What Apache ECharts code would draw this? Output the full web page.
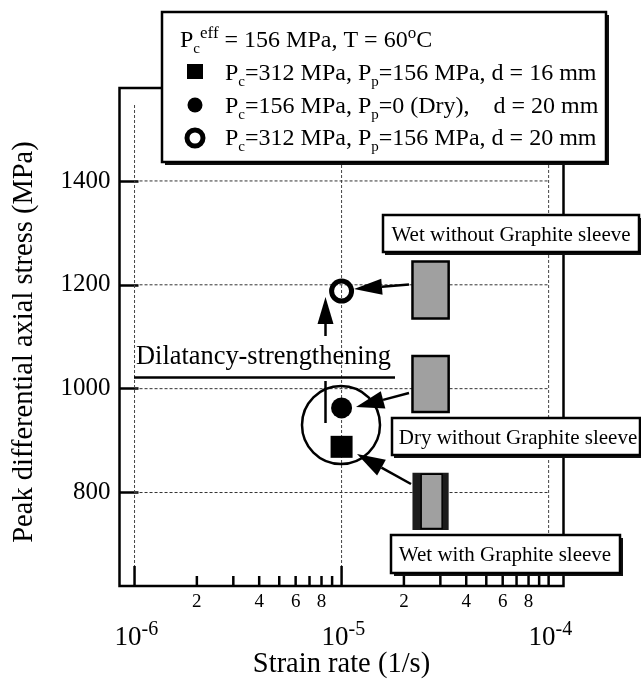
<!DOCTYPE html>
<html><head><meta charset="utf-8">
<style>html,body{margin:0;padding:0;background:#fff}#c{width:641px;height:684px}</style>
<script src="https://cdn.jsdelivr.net/npm/echarts@6/dist/echarts.min.js"></script>
</head><body><div id="c"></div>
<script>
const FONT = '"Liberation Serif","Times New Roman",serif';
const yTicks = [800, 1000, 1200, 1400];
const xDecades = [1e-6, 1e-5, 1e-4];
const xDecadeExp = ['-6', '-5', '-4'];
const xMinorMult = [2, 3, 4, 5, 6, 7, 8, 9];
const xMinorLabelled = [2, 4, 6, 8];
const squarePoint = [[1e-5, 888]];
const filledPoint = [[1e-5, 963]];
const openPoint = [[1e-5, 1188]];
const grayBars = [[2.2e-5, 3.29e-5, 1135, 1245], [2.2e-5, 3.29e-5, 955, 1063]];
const sleeveBar = [[2.2e-5, 3.29e-5, 728, 838]];
const legendTitle = '{m|P}{sub|c}{sup|eff}{m| = 156 MPa, T = 60}{sup|o}{m|C}';
const legendRows = [
  '{m|P}{sub|c}{m|=312 MPa, P}{sub|p}{m|=156 MPa, d = 16 mm}',
  '{m|P}{sub|c}{m|=156 MPa, P}{sub|p}{m|=0 (Dry),    d = 20 mm}',
  '{m|P}{sub|c}{m|=312 MPa, P}{sub|p}{m|=156 MPa, d = 20 mm}'
];

const richL = {
  m: {fontFamily: FONT, fontSize: 24, lineHeight: 32, verticalAlign: 'middle', fill: '#000'},
  sub: {fontFamily: FONT, fontSize: 15, lineHeight: 11, verticalAlign: 'bottom', fill: '#000'},
  sup: {fontFamily: FONT, fontSize: 17, lineHeight: 8, verticalAlign: 'top', fill: '#000'}
};
function box(x, y, w, h, sx, sy) {
  return [
    {type: 'rect', shape: {x: x + sx, y: y + sy, width: w, height: h}, style: {fill: '#111'}, z: 20},
    {type: 'rect', shape: {x, y, width: w, height: h}, style: {fill: '#fff', stroke: '#000', lineWidth: 2.5}, z: 21}
  ];
}
function label(text, x, y, size) {
  return {type: 'text', x, y, z: 22, style: {text, font: size + 'px ' + FONT, fill: '#000', textAlign: 'center', textVerticalAlign: 'middle'}};
}
function arrow(x1, y1, x2, y2, len, hw) {
  const d = Math.hypot(x2 - x1, y2 - y1), ux = (x2 - x1) / d, uy = (y2 - y1) / d;
  const bx = x2 - ux * len, by = y2 - uy * len;
  return [
    {type: 'line', shape: {x1, y1, x2: bx, y2: by}, style: {stroke: '#000', lineWidth: 2.5}, z: 12},
    {type: 'polygon', shape: {points: [[x2, y2], [bx - uy * hw, by + ux * hw], [bx + uy * hw, by - ux * hw]]}, style: {fill: '#000'}, z: 12}
  ];
}
const graphics = [
  {type: 'circle', shape: {cx: 341, cy: 425, r: 39}, style: {fill: 'none', stroke: '#000', lineWidth: 2.5}, z: 11},
  {type: 'line', shape: {x1: 134, y1: 377.5, x2: 395, y2: 377.5}, style: {stroke: '#000', lineWidth: 2.5}, z: 12},
  {type: 'line', shape: {x1: 325.5, y1: 381, x2: 325.5, y2: 423}, style: {stroke: '#000', lineWidth: 2.5}, z: 12},
  label('Dilatancy-strengthening', 263.5, 357, 26.4),
  ...arrow(325.5, 336, 325.5, 297, 27, 8),
  ...arrow(409, 284.5, 354, 289, 28, 8),
  ...arrow(409, 393, 356, 407, 28, 9),
  ...arrow(411, 484, 357, 454, 28, 9),
  ...box(162, 12, 444, 150, 3, 3),
  {type: 'text', x: 180, y: 41, z: 22, style: {text: legendTitle, rich: richL, textVerticalAlign: 'middle'}},
  {type: 'text', x: 225, y: 74, z: 22, style: {text: legendRows[0], rich: richL, textVerticalAlign: 'middle'}},
  {type: 'text', x: 225, y: 107, z: 22, style: {text: legendRows[1], rich: richL, textVerticalAlign: 'middle'}},
  {type: 'text', x: 225, y: 139, z: 22, style: {text: legendRows[2], rich: richL, textVerticalAlign: 'middle'}},
  {type: 'rect', shape: {x: 187, y: 64, width: 16, height: 15}, style: {fill: '#000'}, z: 22},
  {type: 'circle', shape: {cx: 195, cy: 105, r: 7.5}, style: {fill: '#000'}, z: 22},
  {type: 'circle', shape: {cx: 195, cy: 138, r: 8}, style: {fill: '#fff', stroke: '#000', lineWidth: 5}, z: 22},
  ...box(383, 215, 256, 37, 2, 3),
  label('Wet without Graphite sleeve', 511, 235, 21),
  ...box(392, 418, 248, 37, 2, 3),
  label('Dry without Graphite sleeve', 518, 438, 21),
  ...box(391, 535, 229, 38, 3, 3),
  label('Wet with Graphite sleeve', 505, 555, 21)
];

const minorTicks = [];
xDecades.slice(0, 2).forEach(d => xMinorMult.forEach(m => minorTicks.push([d * m, m])));

const richTick = {
  m: {fontFamily: FONT, fontSize: 27, lineHeight: 36, verticalAlign: 'middle', fill: '#000'},
  sup: {fontFamily: FONT, fontSize: 20, lineHeight: 14, verticalAlign: 'top', fill: '#000'}
};
function barRender(params, api) {
  const lt = api.coord([api.value(0), api.value(3)]);
  const rb = api.coord([api.value(1), api.value(2)]);
  return {type: 'rect', shape: {x: lt[0], y: lt[1], width: rb[0] - lt[0], height: rb[1] - lt[1]},
    style: {fill: '#a0a0a0', stroke: '#000', lineWidth: 2.5}};
}
function sleeveRender(params, api) {
  const lt = api.coord([api.value(0), api.value(3)]);
  const rb = api.coord([api.value(1), api.value(2)]);
  const w = rb[0] - lt[0], h = rb[1] - lt[1];
  return {type: 'group', children: [
    {type: 'rect', shape: {x: lt[0], y: lt[1], width: w, height: h}, style: {fill: '#1c1c1c'}},
    {type: 'rect', shape: {x: lt[0] + w * 0.24, y: lt[1] + 1.5, width: w * 0.58, height: h - 3}, style: {fill: '#a0a0a0', stroke: '#000', lineWidth: 1.5}}
  ]};
}

const opt = {
  animation: false,
  backgroundColor: '#fff',
  grid: {left: 119.5, right: 77.5, top: 88, bottom: 98, outerBoundsMode: 'none', show: true, backgroundColor: 'transparent', borderColor: '#000', borderWidth: 2.5},
  xAxis: {
    type: 'log', logBase: 10, min: 8.46e-7, max: 1.18e-4,
    axisLine: {show: false}, axisTick: {show: false}, axisLabel: {show: false}, splitLine: {show: false}, minorTick: {show: false},
    name: 'Strain rate (1/s)', nameLocation: 'middle', nameGap: 64,
    nameTextStyle: {fontFamily: FONT, fontSize: 28.5, color: '#000'}
  },
  yAxis: {
    type: 'value', min: 620, max: 1579,
    axisLine: {show: false}, splitLine: {show: false},
    axisTick: {show: true, inside: true, length: 19, lineStyle: {color: '#000', width: 2.5}, customValues: yTicks},
    axisLabel: {fontFamily: FONT, fontSize: 25, color: '#000', margin: 9, customValues: yTicks, formatter: v => String(v)},
    name: 'Peak differential axial stress (MPa)', nameLocation: 'middle', nameGap: 80, nameRotate: 90,
    nameTextStyle: {fontFamily: FONT, fontSize: 28.5, color: '#000', padding: [0, 10, 0, 0]}
  },
  graphic: {elements: graphics},
  series: [
    {type: 'custom', name: 'vgrid', clip: false, z: 1, data: xDecades.map(d => [d]), encode: {x: 0},
      renderItem(params, api) {
        const x = api.coord([api.value(0), 1000])[0], c = params.coordSys;
        return {type: 'line', shape: {x1: x, y1: 105, x2: x, y2: c.y + c.height}, style: {stroke: '#444', lineWidth: 1, lineDash: [3, 2]}};
      }},
    {type: 'custom', name: 'hgrid', clip: false, z: 1, data: yTicks.map(v => [1e-6, v]), encode: {x: 0, y: 1},
      renderItem(params, api) {
        const a = api.coord([1e-6, api.value(1)]), b = api.coord([1e-4, api.value(1)]);
        return {type: 'line', shape: {x1: a[0], y1: a[1], x2: b[0], y2: b[1]}, style: {stroke: '#333', lineWidth: 1, lineDash: [3, 2]}};
      }},
    {type: 'custom', name: 'majorTicks', clip: false, z: 3, data: xDecades.map((d, i) => [d, i]), encode: {x: 0},
      renderItem(params, api) {
        const x = api.coord([api.value(0), 1000])[0], c = params.coordSys, y = c.y + c.height;
        const i = api.value(1);
        return {type: 'group', children: [
          {type: 'line', shape: {x1: x, y1: y, x2: x, y2: y - 20}, style: {stroke: '#000', lineWidth: 2.5}},
          {type: 'text', x: x - 20, y: y + 52, style: {text: '{m|10}{sup|' + xDecadeExp[i] + '}', rich: richTick, textVerticalAlign: 'middle'}}
        ]};
      }},
    {type: 'custom', name: 'minorTicks', clip: false, z: 3, data: minorTicks, encode: {x: 0},
      renderItem(params, api) {
        const x = api.coord([api.value(0), 1000])[0], c = params.coordSys, y = c.y + c.height;
        const m = api.value(1);
        const ch = [{type: 'line', shape: {x1: x, y1: y, x2: x, y2: y - 10}, style: {stroke: '#000', lineWidth: 2.5}}];
        if (xMinorLabelled.includes(m)) ch.push({type: 'text', x, y: y + 16, style: {text: String(m), font: '19px ' + FONT, fill: '#000', textAlign: 'center', textVerticalAlign: 'middle'}});
        return {type: 'group', children: ch};
      }},
    {type: 'custom', name: 'grayBars', z: 5, data: grayBars, encode: {x: [0, 1], y: [2, 3]}, renderItem: barRender},
    {type: 'custom', name: 'sleeveBar', z: 5, data: sleeveBar, encode: {x: [0, 1], y: [2, 3]}, renderItem: sleeveRender},
    {type: 'scatter', name: 'square', z: 6, data: squarePoint, symbol: 'rect', symbolSize: [22, 22], itemStyle: {color: '#000', opacity: 1}},
    {type: 'scatter', name: 'filled', z: 6, data: filledPoint, symbol: 'circle', symbolSize: 21, itemStyle: {color: '#000', opacity: 1}},
    {type: 'scatter', name: 'open', z: 6, data: openPoint, symbol: 'circle', symbolSize: 20, itemStyle: {color: 'transparent', borderColor: '#000', borderWidth: 5, opacity: 1}}
  ]
};
const chart = echarts.init(document.getElementById('c'), null, {renderer: 'canvas'});
chart.setOption(opt);
</script></body></html>
